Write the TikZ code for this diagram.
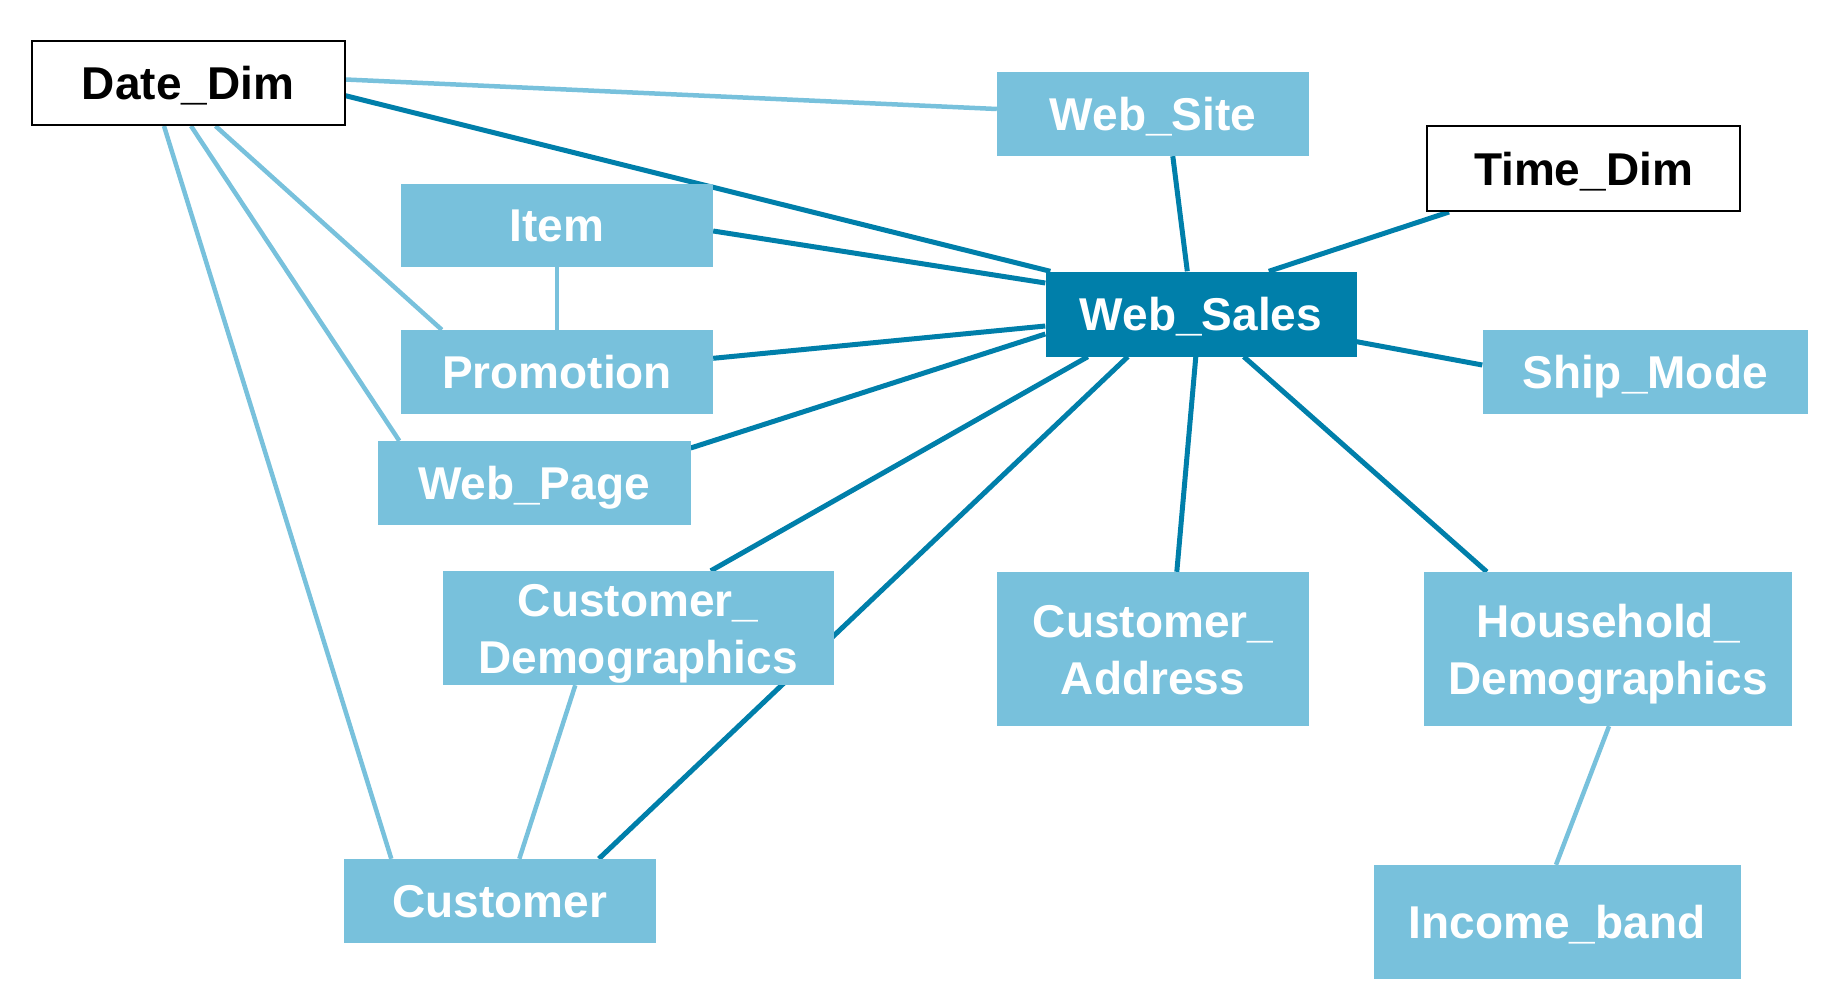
\documentclass[tikz,border=0pt]{standalone}
\usepackage{fontspec}
\setmainfont{Liberation Sans}
\usetikzlibrary{calc,backgrounds}
\definecolor{lightb}{RGB}{120,193,220}
\definecolor{darkb}{RGB}{0,127,170}
\tikzset{
  box/.style={rectangle, inner sep=0pt, font=\bfseries\fontsize{46}{57}\selectfont,
    text height=33pt, text depth=0pt, align=center},
  dimbox/.style={box, draw=black, line width=2pt, fill=white, text=black},
  lbox/.style={box, fill=lightb, text=white},
  dbox/.style={box, fill=darkb, text=white},
  twol/.style={text height=90pt, text depth=0pt},
  lline/.style={draw=lightb, line width=4.5pt},
  dline/.style={draw=darkb, line width=5pt}
}
\begin{document}
\begin{tikzpicture}[x=1pt,y=-1pt]
\useasboundingbox (0,0) rectangle (1836,998);
\node[dimbox, minimum width=313pt, minimum height=84pt] (ddim) at (188,83) {Date\_Dim};
\node[lbox, minimum width=312pt, minimum height=84pt] (wsite) at (1153,114) {Web\_Site};
\node[dimbox, minimum width=313pt, minimum height=85pt] (tdim) at (1583.5,168.5) {Time\_Dim};
\node[lbox, minimum width=312pt, minimum height=83pt] (item) at (557,225) {Item};
\node[dbox, minimum width=311pt, minimum height=85pt] (wsales) at (1201,314) {Web\_Sales};
\node[lbox, minimum width=312pt, minimum height=84pt] (promo) at (557,372) {Promotion};
\node[lbox, minimum width=325pt, minimum height=84pt] (ship) at (1645,372) {Ship\_Mode};
\node[lbox, minimum width=313pt, minimum height=84pt] (wpage) at (534,483) {Web\_Page};
\node[lbox, twol, minimum width=391pt, minimum height=114pt] (cdemo) at (638,628) {Customer\_\\Demographics};
\node[lbox, minimum width=312pt, minimum height=84pt] (customer) at (500,901) {Customer};
\node[lbox, twol, minimum width=312pt, minimum height=154pt] (caddr) at (1153,649) {Customer\_\\Address};
\node[lbox, twol, minimum width=368pt, minimum height=154pt] (hdemo) at (1608,649) {Household\_\\Demographics};
\node[lbox, minimum width=367pt, minimum height=114pt] (income) at (1557,922) {Income\_band};
\begin{pgfonlayer}{background}
% light connectors
\draw[lline] ($(ddim.east)+(0,-3.5)$) -- ($(wsite.west)+(0,-5)$);
\draw[lline] ($(ddim.south west)+(185,0)$) -- ($(promo.north west)+(41,0)$);
\draw[lline] ($(ddim.south west)+(160.5,0)$) -- ($(wpage.north west)+(22,0)$);
\draw[lline] ($(ddim.south west)+(133.5,0)$) -- ($(customer.north west)+(47.5,0)$);
\draw[lline] (item.south) -- (promo.north);
\draw[lline] ($(cdemo.south west)+(133,0)$) -- ($(customer.north west)+(175.5,0)$);
\draw[lline] ($(hdemo.south)+(1,0)$) -- ($(income.north)+(-1,0)$);
% dark connectors
\draw[dline] ($(ddim.east)+(0,12.7)$) -- ($(wsales.north west)+(5,0)$);
\draw[dline] ($(item.east)+(0,6)$) -- ($(wsales.west)+(0,-31)$);
\draw[dline] ($(promo.east)+(0,-13.7)$) -- ($(wsales.west)+(0,12)$);
\draw[dline] ($(wpage.east)+(0,-35)$) -- ($(wsales.west)+(0,20)$);
\draw[dline] ($(cdemo.north west)+(268.5,0)$) -- ($(wsales.south west)+(42.5,0)$);
\draw[dline] ($(customer.north west)+(255,0)$) -- ($(wsales.south west)+(82.5,0)$);
\draw[dline] ($(wsales.south west)+(150.5,0)$) -- ($(caddr.north west)+(180,0)$);
\draw[dline] ($(wsales.south west)+(198.5,0)$) -- ($(hdemo.north west)+(63,0)$);
\draw[dline] ($(wsales.east)+(0,27.7)$) -- ($(ship.west)+(0,-7)$);
\draw[dline] ($(wsales.north west)+(223.5,0)$) -- ($(tdim.south west)+(23,0)$);
\draw[dline] ($(wsite.south west)+(176,0)$) -- ($(wsales.north west)+(142,0)$);
\end{pgfonlayer}
\end{tikzpicture}
\end{document}
